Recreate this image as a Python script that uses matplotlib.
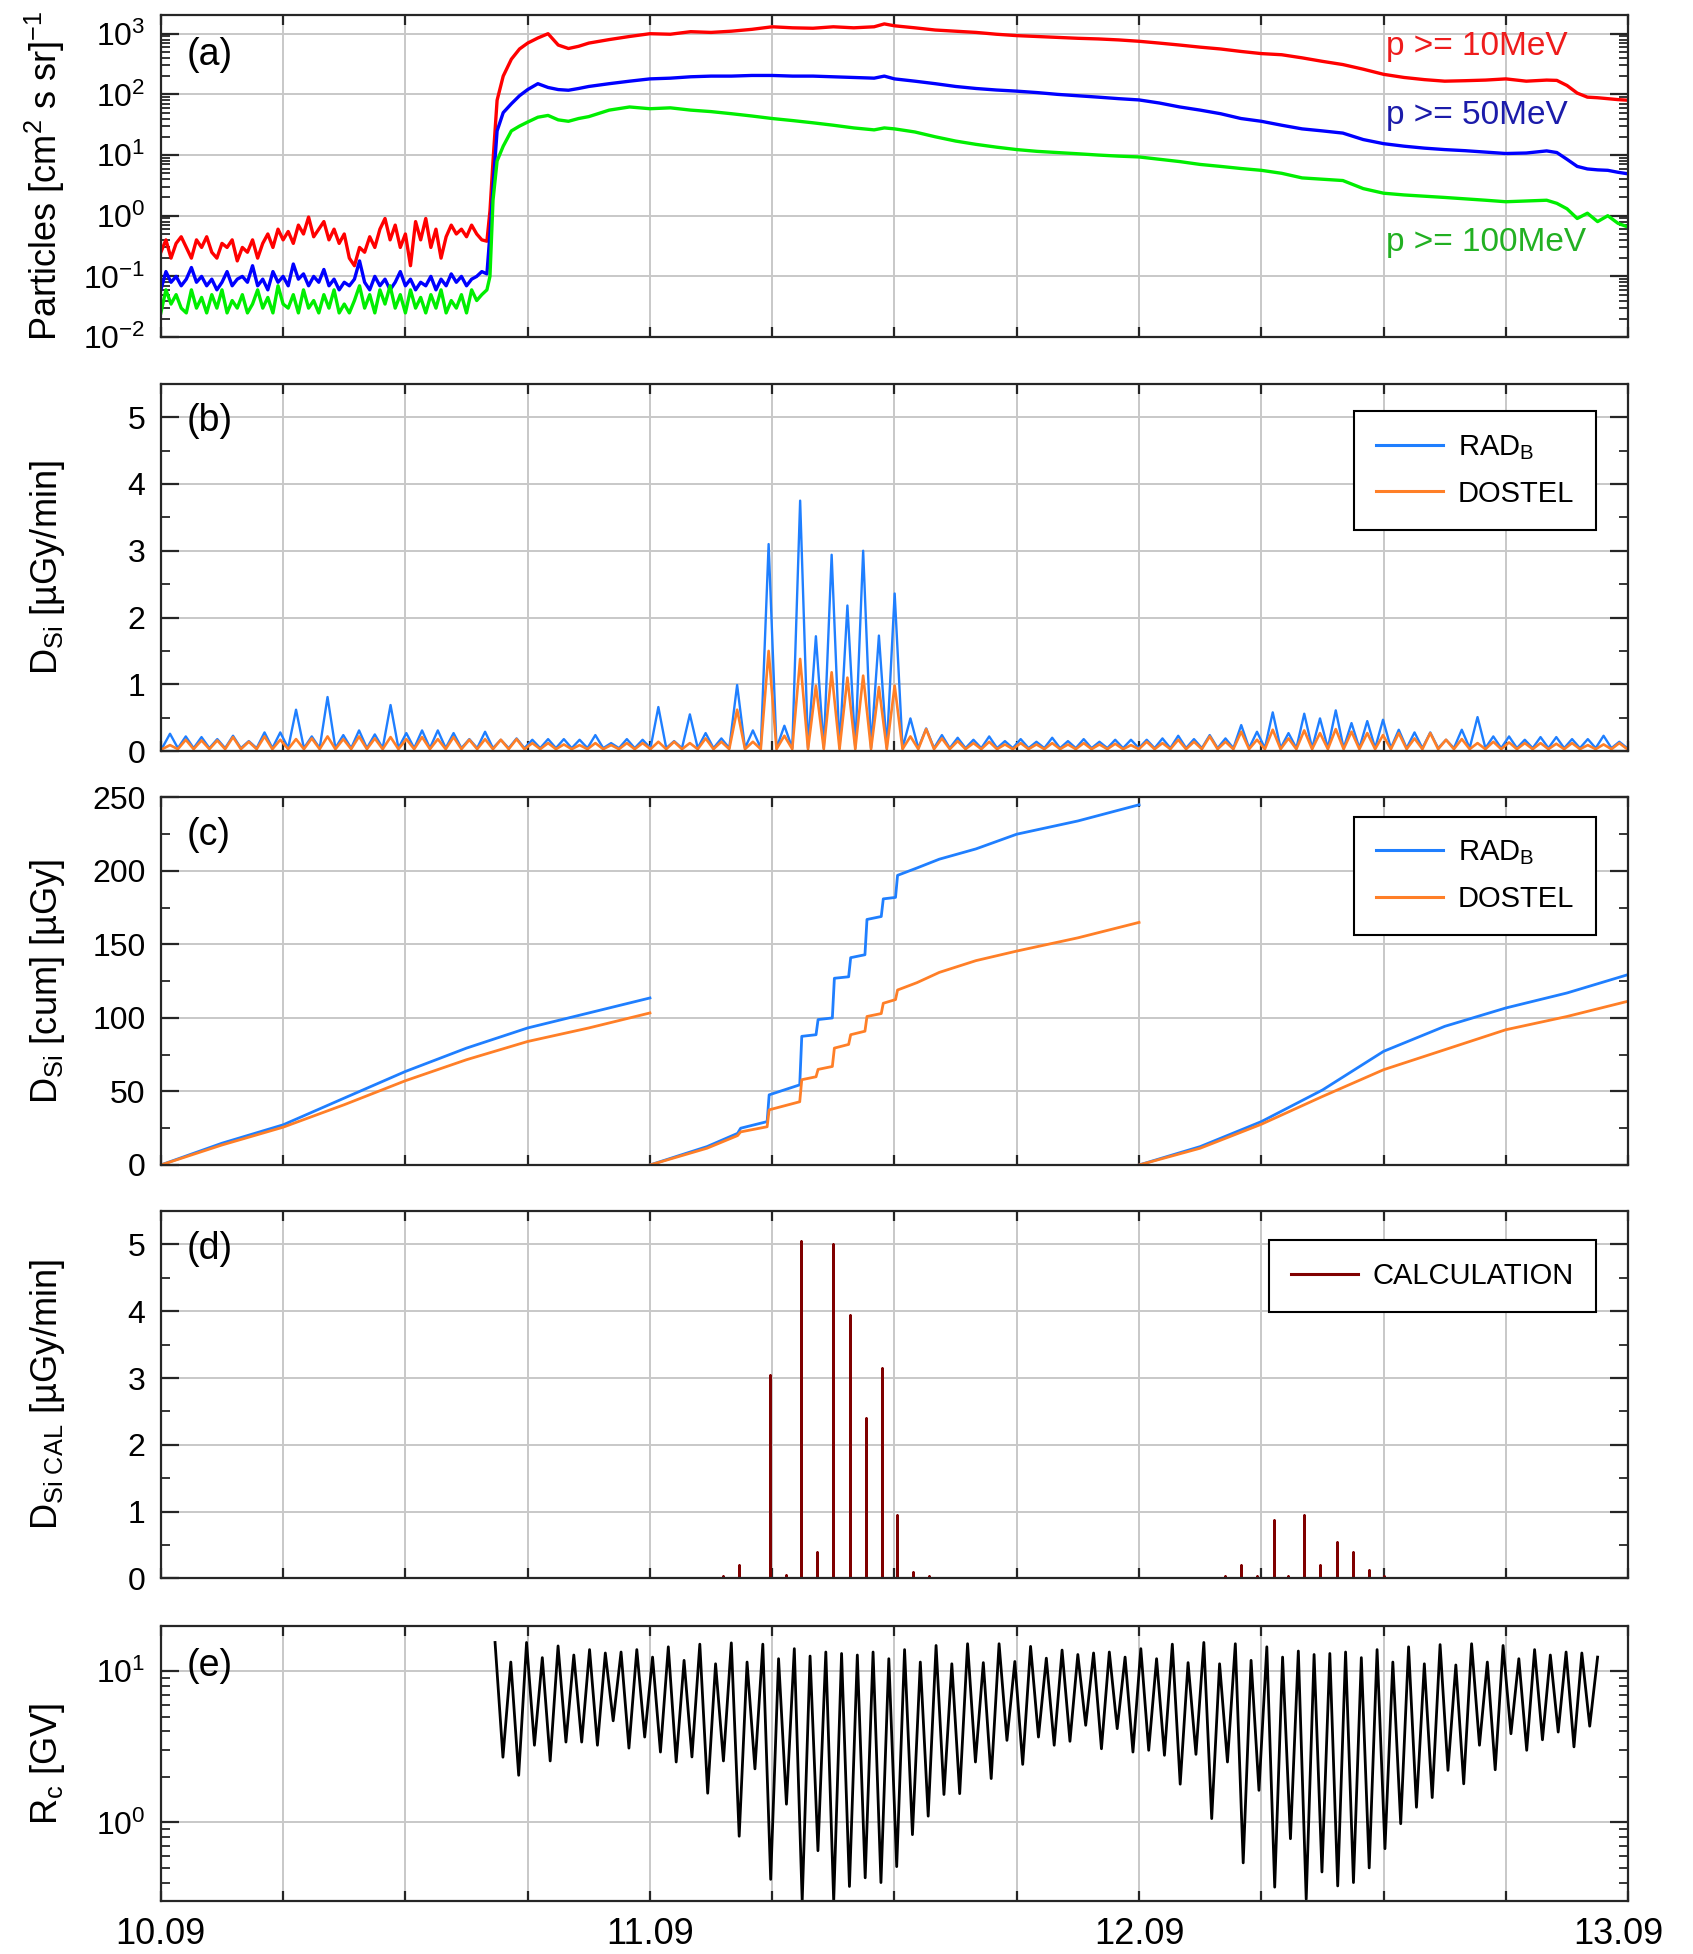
import numpy as np
import matplotlib
matplotlib.use('Agg')
import matplotlib.pyplot as plt
import matplotlib.transforms as mtrans
from matplotlib.ticker import MultipleLocator, FuncFormatter, LogLocator, NullFormatter

plt.rcParams['font.family'] = ['Liberation Sans', 'DejaVu Sans']
plt.rcParams['mathtext.fontset'] = 'custom'
plt.rcParams['mathtext.rm'] = 'Liberation Sans'
plt.rcParams['mathtext.it'] = 'Liberation Sans:italic'
plt.rcParams['mathtext.bf'] = 'Liberation Sans:bold'
plt.rcParams['mathtext.sf'] = 'Liberation Sans'

# ---------------- data ----------------
day_ticks = [0, 24, 48, 72]
day_labels = ['10.09', '11.09', '12.09', '13.09']

# (a) particle fluxes: quiet part (0..16 h, every 0.25 h) and event part
a_quiet_t = np.arange(0, 16.01, 0.25)
p10_quiet = [0.25, 0.4, 0.2, 0.35, 0.45, 0.3, 0.2, 0.4, 0.3, 0.45, 0.25, 0.2, 0.35, 0.3, 0.4, 0.18,
             0.3, 0.25, 0.4, 0.2, 0.35, 0.5, 0.3, 0.6, 0.4, 0.55, 0.35, 0.7, 0.5, 0.95, 0.45, 0.6,
             0.8, 0.4, 0.6, 0.35, 0.5, 0.2, 0.15, 0.3, 0.25, 0.45, 0.3, 0.6, 0.9, 0.4, 0.7, 0.3,
             0.5, 0.15, 0.8, 0.4, 0.9, 0.3, 0.6, 0.2, 0.45, 0.7, 0.5, 0.6, 0.45, 0.7, 0.5, 0.4, 0.38]
p50_quiet = [0.06, 0.12, 0.08, 0.1, 0.07, 0.09, 0.14, 0.08, 0.1, 0.07, 0.09, 0.06, 0.08, 0.12, 0.07, 0.09,
             0.1, 0.08, 0.15, 0.07, 0.09, 0.06, 0.12, 0.08, 0.1, 0.07, 0.16, 0.09, 0.11, 0.07, 0.1, 0.08,
             0.13, 0.07, 0.09, 0.06, 0.08, 0.07, 0.09, 0.18, 0.08, 0.06, 0.1, 0.07, 0.09, 0.06, 0.08, 0.12,
             0.07, 0.09, 0.06, 0.08, 0.07, 0.1, 0.06, 0.09, 0.07, 0.11, 0.08, 0.1, 0.07, 0.09, 0.1, 0.12, 0.11]
p100_quiet = [0.025, 0.06, 0.035, 0.05, 0.03, 0.025, 0.06, 0.03, 0.045, 0.025, 0.05, 0.03, 0.06, 0.025, 0.04, 0.03,
              0.05, 0.025, 0.035, 0.06, 0.03, 0.045, 0.025, 0.07, 0.035, 0.03, 0.05, 0.025, 0.06, 0.03, 0.04, 0.025,
              0.05, 0.03, 0.06, 0.025, 0.035, 0.025, 0.04, 0.07, 0.03, 0.05, 0.025, 0.06, 0.035, 0.07, 0.03, 0.05,
              0.025, 0.06, 0.03, 0.045, 0.025, 0.05, 0.03, 0.06, 0.025, 0.04, 0.03, 0.05, 0.025, 0.06, 0.04, 0.05, 0.06]

a_event_t = [16.15, 16.3, 16.5, 16.8, 17.2, 17.6, 18.0, 18.5, 19.0, 19.5, 20.0, 20.5,
             21, 22, 23, 24, 25, 26, 27, 28, 29, 30, 31, 32, 33, 34, 35, 35.5,
             36, 37, 38, 39, 40, 41, 42, 43, 44, 45, 46, 47, 48, 49, 50, 51, 52, 53, 54,
             55, 56, 57, 58, 59, 60, 61, 62, 63, 64, 65, 66, 67, 68,
             68.5, 69, 69.5, 70, 70.5, 71, 71.5, 72]
p10_event = [1.2, 8, 80, 200, 380, 560, 700, 850, 1000, 650, 570, 620,
             700, 800, 900, 1000, 980, 1080, 1050, 1100, 1180, 1300, 1250, 1230, 1300, 1250, 1300, 1450,
             1350, 1250, 1150, 1100, 1050, 980, 930, 900, 870, 840, 820, 790, 750, 700, 650, 600, 560, 510, 470,
             450, 400, 350, 310, 260, 214, 190, 175, 165, 168, 172, 180, 165, 172,
             170, 140, 105, 90, 88, 85, 82, 80]
p50_event = [0.5, 3, 25, 50, 70, 95, 120, 150, 130, 120, 117, 125,
             135, 150, 165, 180, 185, 195, 200, 200, 205, 205, 200, 200, 195, 190, 185, 200,
             180, 165, 150, 135, 125, 118, 113, 107, 100, 95, 90, 85, 81, 72, 62, 55, 48, 40, 36,
             31, 27, 25, 23, 18, 15.4, 14, 13, 12.3, 11.8, 11.2, 10.6, 10.8, 11.7,
             11, 8.5, 6.5, 5.9, 5.7, 5.6, 5.2, 4.9]
p100_event = [0.1, 1.8, 8, 14, 25, 30, 35, 42, 45, 38, 36, 40,
              43, 55, 62, 58, 60, 55, 52, 48, 44, 40, 37, 34, 31, 28, 26, 28,
              27, 24, 20, 17, 15, 13.5, 12.3, 11.5, 11, 10.5, 10, 9.6, 9.3, 8.5, 7.8, 7.0, 6.5, 6.0, 5.6,
              5.0, 4.2, 4.0, 3.8, 2.8, 2.35, 2.2, 2.1, 2.0, 1.9, 1.8, 1.7, 1.75, 1.8,
              1.6, 1.3, 0.9, 1.1, 0.8, 1.0, 0.75, 0.65]

# (b) dose rates: one value per high-latitude pass (every ~0.773 h from 0.45 h)
pass_t0, pass_dt = 0.45, 0.773
rad_peak = [0.26, 0.22, 0.21, 0.18, 0.23, 0.15, 0.28, 0.28, 0.62, 0.22,
            0.81, 0.24, 0.31, 0.25, 0.69, 0.27, 0.31, 0.31, 0.27, 0.18,
            0.29, 0.17, 0.19, 0.17, 0.18, 0.18, 0.17, 0.24, 0.12, 0.18,
            0.17, 0.66, 0.15, 0.55, 0.27, 0.19, 0.99, 0.31, 3.10, 0.38,
            3.75, 1.72, 2.94, 2.18, 3.00, 1.73, 2.36, 0.49, 0.34, 0.24,
            0.2, 0.17, 0.22, 0.15, 0.18, 0.14, 0.2, 0.15, 0.18, 0.14, 0.17,
            0.17, 0.17, 0.19, 0.23, 0.18, 0.24, 0.19, 0.39, 0.29, 0.58,
            0.27, 0.56, 0.49, 0.61, 0.42, 0.45, 0.47, 0.32, 0.28, 0.28,
            0.17, 0.32, 0.51, 0.22, 0.22, 0.17, 0.21, 0.21, 0.18, 0.18, 0.23, 0.14]
dos_peak = [0.09, 0.17, 0.16, 0.16, 0.21, 0.14, 0.22, 0.17, 0.18, 0.19,
            0.22, 0.18, 0.22, 0.19, 0.21, 0.18, 0.21, 0.18, 0.21, 0.17,
            0.18, 0.17, 0.18, 0.12, 0.12, 0.10, 0.09, 0.12, 0.09, 0.12,
            0.12, 0.14, 0.14, 0.12, 0.19, 0.14, 0.62, 0.14, 1.50, 0.23,
            1.38, 0.98, 1.18, 1.10, 1.13, 0.96, 0.98, 0.22, 0.33, 0.19,
            0.15, 0.12, 0.14, 0.10, 0.12, 0.10, 0.12, 0.10, 0.12, 0.10, 0.11,
            0.09, 0.14, 0.12, 0.17, 0.14, 0.22, 0.14, 0.29, 0.17, 0.32,
            0.19, 0.31, 0.27, 0.33, 0.29, 0.27, 0.24, 0.27, 0.19, 0.27,
            0.17, 0.18, 0.12, 0.14, 0.13, 0.12, 0.12, 0.11, 0.12, 0.09, 0.10, 0.12]
rad_trough = 0.045
dos_trough = 0.03

# (c) cumulative dose, reset each day
c_t1 = [0, 3, 6, 9, 12, 15, 18, 21, 24]
rad_c1 = [0, 14.8, 27.3, 45.5, 63.6, 79.5, 93.2, 103.4, 113.6]
dos_c1 = [0, 13.6, 25.7, 41, 57.3, 71.6, 84, 93.2, 103.4]
c_t2 = [24, 26.8, 28.3, 28.45, 29.75, 29.85, 31.35, 31.45, 32.15, 32.25, 32.95, 33.05, 33.75,
        33.85, 34.55, 34.65, 35.35, 35.45, 36.05, 36.15, 37.1, 38.2, 40, 42, 45, 48]
rad_c2 = [0, 12.5, 21.5, 25, 29.5, 47.7, 54.5, 87.5, 88.6, 98.9, 100, 127, 128,
          141, 143, 167, 169, 181, 182, 197, 202, 208, 215, 225, 234, 245]
dos_c2 = [0, 11.4, 20, 22.5, 26, 37.5, 43, 58, 60, 65, 67, 79.5, 82,
          88.6, 91, 101, 103, 110, 112.5, 119, 124, 131, 139, 145.5, 154.5, 165]
c_t3 = [48, 51, 54, 57, 60, 63, 66, 69, 72]
rad_c3 = [0, 12.5, 29.5, 51, 77.3, 94.3, 106.8, 117, 129.5]
dos_c3 = [0, 11.4, 27.7, 46.6, 64.8, 78.4, 92, 101, 111.4]

# (d) calculated dose rate spikes
cal_start, cal_end = 16.4, 70.5
cal_t = [27.6, 28.37, 29.9, 30.67, 31.42, 32.2, 33.0, 33.8, 34.6, 35.4, 36.1, 36.9, 37.7,
         52.2, 53.0, 53.8, 54.6, 55.3, 56.1, 56.9, 57.7, 58.5, 59.3, 60.0]
cal_v = [0.03, 0.2, 3.05, 0.05, 5.05, 0.4, 5.0, 3.95, 2.4, 3.15, 0.95, 0.1, 0.03,
         0.03, 0.2, 0.03, 0.87, 0.03, 0.95, 0.2, 0.55, 0.4, 0.12, 0.03]

# (e) cutoff rigidity: alternating maxima / minima from 16.4 h to 70.5 h
rc_start, rc_end = 16.4, 70.5
rc_vals = [15.5,
           2.7, 11.5, 2.05, 15.5, 3.24, 12.3, 2.55, 14.7, 3.4, 12.8, 3.4, 13.9, 3.24, 13.2, 4.7, 13.4, 3.1, 13.9,
           3.67, 12.4, 2.92, 14.5, 2.51, 11.8, 2.71, 15.1, 1.56, 11.2, 2.55, 15.4, 0.81, 11.5, 2.26, 15.1,
           0.42, 12.1, 1.32, 14.1, 0.30, 12.6, 0.65, 13.4, 0.30, 13.1, 0.377, 12.8, 0.43, 13.4, 0.40, 12.1,
           0.51, 13.9, 0.83, 11.5, 1.1, 14.8, 1.53, 11.2, 1.55, 15.2, 2.51, 11.4, 1.95, 15.2, 3.49, 11.6,
           2.42, 14.6, 3.67, 12.2, 3.24, 13.8, 3.44, 12.9, 4.39, 13.2, 3.07, 13.4, 4.17, 12.4, 2.92, 14.1,
           3.0, 12.1, 2.78, 15.1, 1.79, 11.4, 2.82, 15.5, 1.06, 11.2, 2.51, 15.2, 0.54, 11.8, 1.63, 14.5,
           0.373, 12.4, 0.78, 13.6, 0.31, 12.9, 0.47, 13.1, 0.38, 13.4, 0.40, 12.3, 0.50, 13.9, 0.67, 11.5,
           0.98, 14.5, 1.26, 11.2, 1.46, 15.0, 2.21, 11.0, 1.8, 15.2, 3.24, 11.5, 2.23, 14.8, 3.86, 12.1,
           3.0, 13.9, 3.52, 12.8, 3.96, 13.4, 3.16, 13.2, 4.33, 12.4]

# ---------------- build series ----------------
a_t = np.concatenate([a_quiet_t, a_event_t])
p10 = np.concatenate([p10_quiet, p10_event])
p50 = np.concatenate([p50_quiet, p50_event])
p100 = np.concatenate([p100_quiet, p100_event])

npass = len(rad_peak)
b_t = pass_t0 - pass_dt / 2 + np.arange(2 * npass + 1) * pass_dt / 2
rad_b = np.full(2 * npass + 1, rad_trough)
dos_b = np.full(2 * npass + 1, dos_trough)
rad_b[1::2] = rad_peak
dos_b[1::2] = dos_peak

cx, cy = [cal_start], [0.0]
for t, v in zip(cal_t, cal_v):
    cx += [t, t, t]
    cy += [0.0, v, 0.0]
cx.append(cal_end)
cy.append(0.0)

rc_t = np.linspace(rc_start, rc_end, len(rc_vals))

# ---------------- figure ----------------
fig = plt.figure(figsize=(16.93, 19.54), dpi=100)
L, W = 0.0950, 0.8667
axa = fig.add_axes([L, 0.8275, W, 0.1646])
axb = fig.add_axes([L, 0.6156, W, 0.1880])
axc = fig.add_axes([L, 0.4038, W, 0.1881])
axd = fig.add_axes([L, 0.1922, W, 0.1880])
axe = fig.add_axes([L, 0.0269, W, 0.1411])
axes = [axa, axb, axc, axd, axe]

TICK_FS = 23
XTICK_FS = 26
LAB_FS = 26
PANEL_FS = 27
GRID_C = '#c8c8c8'
SPINE_C = '#262626'

RAD_C = '#1f7fff'
DOS_C = '#ff7f27'

for ax in axes:
    ax.set_xlim(0, 72)
    ax.xaxis.set_major_locator(MultipleLocator(6))
    ax.grid(True, which='major', color=GRID_C, lw=1.4)
    ax.set_axisbelow(True)
    ax.tick_params(which='both', direction='in', top=True, right=True,
                   labelsize=TICK_FS, colors=SPINE_C, labelcolor='black')
    ax.tick_params(axis='x', which='major', length=7, width=1.6, pad=11, labelsize=XTICK_FS)
    ax.tick_params(axis='y', which='major', length=13, width=1.6, pad=11)
    ax.tick_params(axis='y', which='minor', length=6.5, width=1.3)
    for s in ax.spines.values():
        s.set_linewidth(1.6)
        s.set_color(SPINE_C)
    if ax is not axe:
        ax.tick_params(axis='x', labelbottom=False)

day_map = dict(zip(day_ticks, day_labels))
axe.xaxis.set_major_formatter(FuncFormatter(lambda v, p: day_map.get(int(round(v)), '')))

def panel_label(ax, s, yoff):
    ax.annotate(s, xy=(0, 1), xycoords='axes fraction', xytext=(26, -yoff),
                textcoords='offset pixels', ha='left', va='center', fontsize=PANEL_FS)

def ylab(ax, s, x=-0.077):
    ax.text(x, 0.5, s, transform=ax.transAxes, rotation=90, ha='center', va='center',
            fontsize=LAB_FS)

# (a)
axa.semilogy(a_t, p10, color='#ff0000', lw=2.4)
axa.semilogy(a_t, p50, color='#0000ff', lw=2.4)
axa.semilogy(a_t, p100, color='#00ee00', lw=2.4)
axa.set_ylim(0.01, 2000)
axa.yaxis.set_major_locator(LogLocator(base=10, numticks=10))
axa.yaxis.set_minor_locator(LogLocator(base=10, subs=np.arange(2, 10), numticks=20))
axa.yaxis.set_minor_formatter(NullFormatter())
AFS = 24
axa.text(0.835, 0.903, 'p >= 10MeV', transform=axa.transAxes, color='#ee1c1c',
         fontsize=AFS, va='center', ha='left')
axa.text(0.835, 0.688, 'p >= 50MeV', transform=axa.transAxes, color='#1c1caa',
         fontsize=AFS, va='center', ha='left')
axa.text(0.835, 0.293, 'p >= 100MeV', transform=axa.transAxes, color='#22b022',
         fontsize=AFS, va='center', ha='left')
panel_label(axa, '(a)', 40)
ylab(axa, r'Particles [cm$^2$ s sr]$^{-1}$', -0.079)

# (b)
axb.plot(b_t, rad_b, color=RAD_C, lw=1.7, label=r'RAD$_\mathrm{B}$')
axb.plot(b_t, dos_b, color=DOS_C, lw=1.9, label='DOSTEL')
axb.set_ylim(0, 5.5)
axb.yaxis.set_major_locator(MultipleLocator(1))
axb.yaxis.set_minor_locator(MultipleLocator(0.5))
panel_label(axb, '(b)', 37)
ylab(axb, r'D$_{\mathrm{Si}}$ [µGy/min]')

def legend(ax, anchor):
    leg = ax.legend(loc='upper right', bbox_to_anchor=anchor, borderaxespad=0,
                    frameon=True, fancybox=False, edgecolor='black', framealpha=1,
                    fontsize=21, handlelength=2.3, handletextpad=0.5,
                    borderpad=0.75, labelspacing=0.62)
    leg.get_frame().set_linewidth(1.5)
    for h in leg.get_lines():
        h.set_linewidth(2.2)
    return leg

legend(axb, (0.978, 0.926))

# (c)
axc.plot(c_t1, rad_c1, color=RAD_C, lw=2.0, label=r'RAD$_\mathrm{B}$')
axc.plot(c_t1, dos_c1, color=DOS_C, lw=2.0, label='DOSTEL')
axc.plot(c_t2, rad_c2, color=RAD_C, lw=2.0)
axc.plot(c_t2, dos_c2, color=DOS_C, lw=2.0)
axc.plot(c_t3, rad_c3, color=RAD_C, lw=2.0)
axc.plot(c_t3, dos_c3, color=DOS_C, lw=2.0)
axc.set_ylim(0, 250)
axc.yaxis.set_major_locator(MultipleLocator(50))
axc.yaxis.set_minor_locator(MultipleLocator(25))
panel_label(axc, '(c)', 38)
ylab(axc, r'D$_{\mathrm{Si}}$ [cum] [µGy]')
legend(axc, (0.978, 0.948))

# (d)
axd.plot(cx, cy, color='#800000', lw=1.8, label='CALCULATION')
axd.set_ylim(0, 5.5)
axd.yaxis.set_major_locator(MultipleLocator(1))
axd.yaxis.set_minor_locator(MultipleLocator(0.5))
panel_label(axd, '(d)', 38)
ylab(axd, r'D$_{\mathrm{Si\ CAL}}$ [µGy/min]')
legend(axd, (0.978, 0.921))

# (e)
axe.semilogy(rc_t, rc_vals, color='black', lw=2.0)
axe.set_ylim(0.3, 20)
axe.yaxis.set_major_locator(LogLocator(base=10, numticks=10))
axe.yaxis.set_minor_locator(LogLocator(base=10, subs=np.arange(2, 10), numticks=20))
axe.yaxis.set_minor_formatter(NullFormatter())
panel_label(axe, '(e)', 40)
ylab(axe, r'R$_{\mathrm{c}}$ [GV]')

# the last date label sits slightly inside the right edge in the reference
fig.canvas.draw()
for lab in axe.get_xticklabels():
    if lab.get_text() == day_labels[-1]:
        lab.set_transform(lab.get_transform() + mtrans.ScaledTranslation(-10 / 100, 0, fig.dpi_scale_trans))

fig.savefig('out.png', dpi=100)
